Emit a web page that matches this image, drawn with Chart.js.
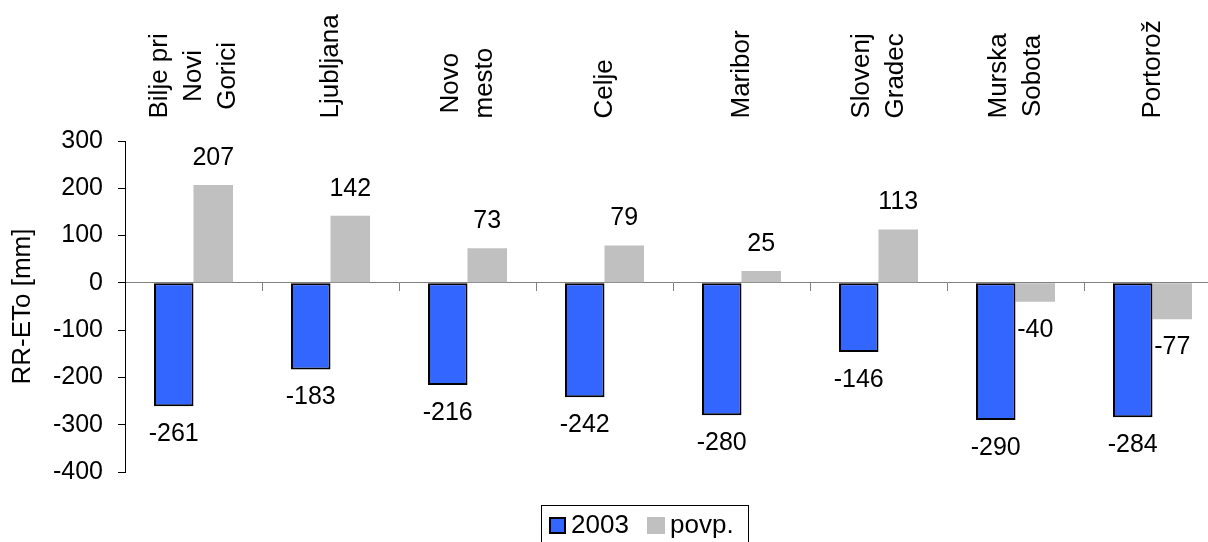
<!DOCTYPE html>
<html>
<head>
<meta charset="utf-8">
<script src="https://cdn.jsdelivr.net/npm/chart.js@4/dist/chart.umd.min.js"></script>
<style>
  html, body { margin: 0; padding: 0; background: #fff; overflow: hidden; }
  #wrap { width: 1240px; height: 542px; }
</style>
</head>
<body>
<div id="wrap"><canvas id="c" width="1240" height="542"></canvas></div>
<script>
// Weather stations (multi-line names are split into arrays)
const stations = [
  ['Bilje pri', 'Novi', 'Gorici'],
  ['Ljubljana'],
  ['Novo', 'mesto'],
  ['Celje'],
  ['Maribor'],
  ['Slovenj', 'Gradec'],
  ['Murska', 'Sobota'],
  ['Portorož']
];
// Water balance RR - ETo in mm
const values2003 = [-261, -183, -216, -242, -280, -146, -290, -284];
const valuesAvg  = [207, 142, 73, 79, 25, 113, -40, -77];
const seriesNames = ['2003', 'povp.'];
const yTicks = [300, 200, 100, 0, -100, -200, -300, -400];

const FONT = '"Liberation Sans", Arial, sans-serif';

// Value labels beyond the end of each bar
const valueLabels = {
  id: 'valueLabels',
  afterDatasetsDraw(chart) {
    const ctx = chart.ctx;
    ctx.save();
    ctx.font = '25px ' + FONT;
    ctx.fillStyle = '#000';
    ctx.textAlign = 'center';
    ctx.textBaseline = 'middle';
    chart.data.datasets.forEach((ds, di) => {
      chart.getDatasetMeta(di).data.forEach((bar, i) => {
        const v = ds.data[i];
        const y = v >= 0 ? bar.y - 27 : bar.y + 28;
        ctx.fillText(String(v), bar.x, y);
      });
    });
    ctx.restore();
  }
};

// Station names above the plot, rotated, centred per line
const stationLabels = {
  id: 'stationLabels',
  afterDraw(chart) {
    const ctx = chart.ctx;
    const xs = chart.scales.x;
    const bottom = 118.5;
    const lineGap = 34;
    ctx.save();
    ctx.font = '26px ' + FONT;
    ctx.fillStyle = '#000';
    ctx.textAlign = 'center';
    ctx.textBaseline = 'middle';
    stations.forEach((lines, i) => {
      const cx = xs.getPixelForValue(i);
      const maxW = Math.max(...lines.map(l => ctx.measureText(l).width));
      const cy = bottom - maxW / 2;
      lines.forEach((line, k) => {
        const off = (k - (lines.length - 1) / 2) * lineGap;
        ctx.save();
        ctx.translate(cx + off, cy);
        ctx.rotate(-Math.PI / 2);
        ctx.fillText(line, 0, 0);
        ctx.restore();
      });
    });
    ctx.restore();
  }
};

// Boxed legend below the plot
const boxLegend = {
  id: 'boxLegend',
  afterDraw(chart) {
    const ctx = chart.ctx;
    const ds = chart.data.datasets;
    ctx.save();
    ctx.strokeStyle = '#000';
    ctx.lineWidth = 1;
    ctx.strokeRect(541.5, 505.5, 207, 60);
    ctx.fillStyle = ds[0].backgroundColor;
    ctx.fillRect(549, 517, 17, 17);
    ctx.lineWidth = 2;
    ctx.strokeRect(550, 518, 15, 15);
    ctx.fillStyle = ds[1].backgroundColor;
    ctx.fillRect(647, 517, 18, 17);
    ctx.fillStyle = '#000';
    ctx.font = '26px ' + FONT;
    ctx.textAlign = 'left';
    ctx.textBaseline = 'middle';
    ctx.fillText(ds[0].label, 571, 526);
    ctx.fillText(ds[1].label, 670, 526);
    ctx.restore();
  }
};

new Chart(document.getElementById('c'), {
  type: 'bar',
  data: {
    labels: stations.map(s => s.join(' ')),
    datasets: [
      {
        label: seriesNames[0],
        data: values2003,
        backgroundColor: '#3366FF',
        borderColor: '#000000',
        borderWidth: 2,
        borderSkipped: false,
        categoryPercentage: 0.577,
        barPercentage: 1.0
      },
      {
        label: seriesNames[1],
        data: valuesAvg,
        backgroundColor: '#C0C0C0',
        borderWidth: 0,
        categoryPercentage: 0.577,
        barPercentage: 1.0
      }
    ]
  },
  options: {
    responsive: false,
    animation: false,
    devicePixelRatio: 1,
    layout: { padding: { top: 141, bottom: 70, left: 0, right: 19 } },
    plugins: {
      legend: { display: false },
      tooltip: { enabled: false }
    },
    scales: {
      x: {
        type: 'category',
        position: { y: 0 },
        offset: true,
        grid: {
          offset: true,
          drawOnChartArea: false,
          drawTicks: true,
          tickLength: 8,
          color: '#808080',
          lineWidth: 1
        },
        border: { display: true, color: '#808080', width: 1 },
        ticks: { display: false }
      },
      y: {
        position: 'left',
        min: -400,
        max: 300,
        afterBuildTicks(scale) {
          scale.ticks = yTicks.map(v => ({ value: v }));
        },
        afterFit(scale) { scale.width = 125; },
        grid: {
          drawOnChartArea: false,
          drawTicks: true,
          tickLength: 7,
          color: '#000'
        },
        border: { display: true, color: '#000', width: 1 },
        ticks: {
          color: '#000',
          padding: 15,
          font: { family: FONT, size: 25 }
        },
        title: {
          display: true,
          text: 'RR-ETo [mm]',
          color: '#000',
          font: { family: FONT, size: 26 },
          padding: { top: 7, bottom: 0 }
        }
      }
    }
  },
  plugins: [valueLabels, stationLabels, boxLegend]
});
</script>
</body>
</html>
